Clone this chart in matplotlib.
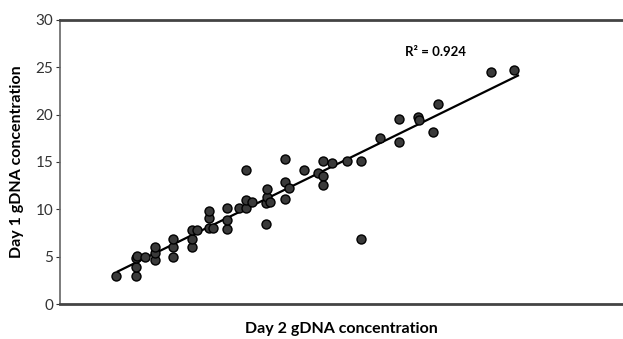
import matplotlib as mpl
mpl.use('Agg')
import matplotlib.pyplot as plt
import numpy

# Day 2 (x, arbitrary units - no ticks on the original) vs Day 1 gDNA concentration
day2 = [5.9, 8.0, 8.0, 8.0, 8.1, 9.0, 10.0, 10.0, 10.0, 11.9, 11.9, 11.9,
        14.0, 14.0, 14.0, 14.5, 15.7, 15.7, 15.7, 16.2, 17.7, 17.7, 17.7,
        18.9, 19.7, 19.7, 19.7, 20.3, 21.8, 21.8, 21.9, 21.9, 22.2, 23.8,
        23.8, 23.8, 24.2, 25.8, 27.3, 27.8, 27.8, 27.8, 28.7, 30.3, 31.8,
        31.8, 33.8, 35.8, 35.8, 37.8, 37.9, 39.4, 39.9, 45.6, 48.0]
day1 = [3.0, 3.0, 3.9, 4.9, 5.1, 5.0, 4.6, 5.4, 6.0, 5.0, 6.0, 6.9,
        6.0, 6.9, 7.8, 7.8, 8.0, 9.1, 9.8, 8.0, 7.9, 8.9, 10.1,
        10.1, 14.1, 10.1, 11.0, 10.8, 8.4, 10.7, 11.3, 12.1, 10.8, 11.1,
        12.9, 15.3, 12.2, 14.1, 13.8, 15.1, 13.5, 12.6, 14.9, 15.1, 15.1,
        6.9, 17.5, 19.5, 17.1, 19.7, 19.4, 18.2, 21.1, 24.5, 24.7]
r2_text = 'R² = 0.924'
yticks = [0, 5, 10, 15, 20, 25, 30]

def main():
    plt.rcParams['font.family'] = ['Lato', 'DejaVu Sans']
    fig = plt.figure(figsize=(6.23, 3.39), dpi=100)
    ax = fig.add_axes([0.0963, 0.1032, 0.9037, 0.838])

    x = numpy.array(day2)
    y = numpy.array(day1)
    ax.scatter(x, y, s=42, color='#3a3a3a', edgecolors='black', linewidths=1.0, zorder=3)

    slope, icpt = numpy.polyfit(x, y, 1)
    xs = numpy.array([x.min() + 0.2, x.max() + 0.4])
    ax.plot(xs, slope * xs + icpt, color='black', lw=1.6, zorder=2)

    ax.text(39.7, 26.6, r2_text, ha='center', va='center', fontsize=9.5, fontweight='bold')

    ax.set_xlim(0, 59.5)
    ax.set_ylim(0, 30)
    ax.set_yticks(yticks)
    ax.set_xticks([])
    ax.tick_params(axis='y', length=3, labelsize=11, colors='#333333', pad=2)
    for s in ['top', 'bottom']:
        ax.spines[s].set_linewidth(2.0)
        ax.spines[s].set_color('#444444')
    ax.spines['left'].set_linewidth(1.2)
    ax.spines['left'].set_color('#666666')
    ax.spines['right'].set_visible(False)

    ax.set_xlabel('Day 2 gDNA concentration', fontsize=11.5, fontweight='bold', labelpad=13)
    ax.set_ylabel('Day 1 gDNA concentration', fontsize=11.5, fontweight='bold', labelpad=8)

    fig.savefig('out.png', dpi=100)

if __name__ == '__main__':
    main()
